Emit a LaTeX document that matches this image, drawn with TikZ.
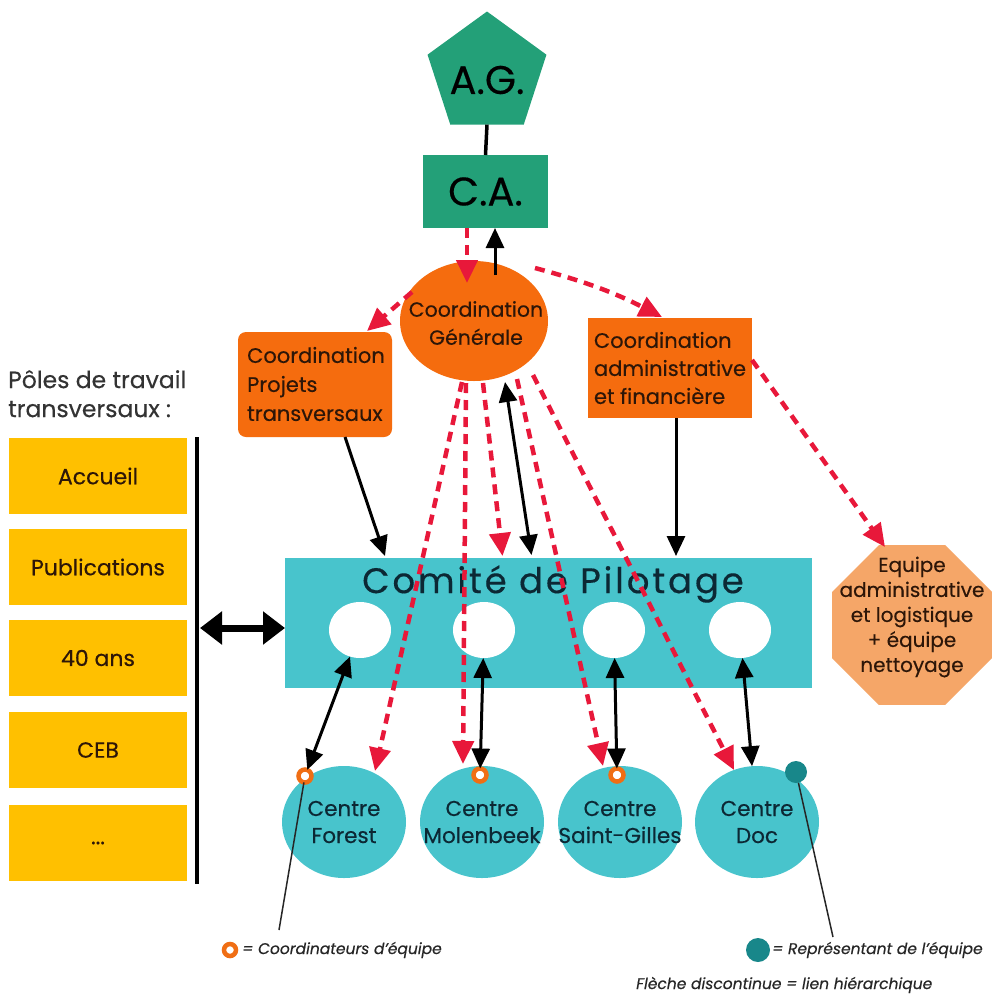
\documentclass[tikz,border=0pt]{standalone}
\usepackage{fontspec}
\setmainfont{Poppins}[FakeBold=0.35]
\usetikzlibrary{shapes.geometric,arrows.meta,calc}
\definecolor{agreen}{RGB}{35,160,120}
\definecolor{corange}{RGB}{245,108,14}
\definecolor{eqorange}{RGB}{245,166,104}
\definecolor{pyellow}{RGB}{255,192,0}
\definecolor{turq}{RGB}{72,196,204}
\definecolor{dred}{RGB}{232,24,58}
\definecolor{tealdot}{RGB}{24,135,138}
\definecolor{ringor}{RGB}{240,110,20}
\definecolor{dtext}{RGB}{45,22,8}
\definecolor{ctext}{RGB}{12,40,52}
\newcommand\fs[2]{\fontsize{#1}{#2}\selectfont}
\begin{document}
\begin{tikzpicture}[x=1pt,y=-1pt,
  shp/.style={inner sep=0pt, outer sep=0pt},
  txt/.style={inner sep=0pt, align=center},
  darr/.style={line width=3pt, black, -{Triangle[length=20pt,width=18pt]}},
  dbl/.style={line width=3pt, black, {Triangle[length=20pt,width=18pt]}-{Triangle[length=20pt,width=18pt]}},
  rarr/.style={line width=4.5pt, dred, dash pattern=on 10pt off 7pt, -{Triangle[length=23pt,width=21pt]}},
  pole/.style={shp, fill=pyellow, minimum width=178pt, minimum height=76pt, font=\fs{22}{26}, text=dtext},
  centre/.style={shp, ellipse, fill=turq, minimum width=124pt, minimum height=112pt},
  ctxt/.style={txt, font=\fs{21.5}{27}, text=ctext},
  hole/.style={shp, ellipse, fill=white, minimum width=62pt, minimum height=56pt},
  ring/.style={shp, circle, draw=ringor, line width=4.5pt, fill=white, minimum size=13pt},
  tdot/.style={shp, circle, fill=tealdot, minimum size=22pt},
  pointer/.style={line width=1.5pt, black!85},
  legend/.style={txt, anchor=west, font=\fs{15.5}{18}\itshape, text=black!85}
]
\useasboundingbox[fill=white] (0,0) rectangle (995,997);

% top
\node[shp, regular polygon, regular polygon sides=5, minimum size=125pt, fill=agreen] (ag) at (487,74) {};
\node[txt, font=\fs{40}{40}] (agt) at (487,80) {A.G.};
\node[shp, fill=agreen, minimum width=125pt, minimum height=73pt, font=\fs{40}{40}] (ca) at (485.5,191.5) {C.A.};
\draw[line width=3.5pt] (ag.south) -- (ca.north);

% coordination
\node[shp, ellipse, fill=corange, minimum width=148pt, minimum height=120pt] (cg) at (474,321) {};
\node[txt, font=\fs{20.5}{28}, text=dtext] (cgt) at (476,323) {Coordination\\Générale};
\node[shp, fill=corange, rounded corners=8pt, minimum width=154pt, minimum height=105pt] (cpt) at (315,384.5) {};
\node[txt, align=left, font=\fs{21}{29}, text=dtext] (cptt) at (316,384) {Coordination\\Projets\\transversaux};
\node[shp, fill=corange, minimum width=164pt, minimum height=100pt] (caf) at (670,368) {};
\node[txt, align=left, font=\fs{21}{28}, text=dtext] (caft) at (670,368) {Coordination\\administrative\\et financière};

% comite
\node[shp, fill=turq, minimum width=527pt, minimum height=130pt] (cp) at (548.5,623) {};
\node[txt, text=ctext] (cpt2) at (553,584) {\addfontfeature{LetterSpace=8}\fs{35.5}{36}Comité de Pilotage};
\node[hole] (w1) at (360,630) {};
\node[hole] (w2) at (484,630) {};
\node[hole] (w3) at (614,630) {};
\node[hole] (w4) at (740,630) {};

% centres
\node[centre] (cf) at (344,822) {};
\node[centre] (cm) at (482,822) {};
\node[centre] (cs) at (620,822) {};
\node[centre] (cd) at (757,822) {};
\node[ctxt] (cft) at (344,822) {Centre\\Forest};
\node[ctxt] (cmt) at (482,822) {Centre\\Molenbeek};
\node[ctxt] (cst) at (620,822) {Centre\\Saint-Gilles};
\node[ctxt] (cdt) at (757,822) {Centre\\Doc};

% equipe octagon
\node[shp, regular polygon, regular polygon sides=8, minimum size=173pt, fill=eqorange] (eq) at (912,625) {};
\node[txt, font=\fs{20}{25}, text=dtext] (eqt) at (912,617) {Equipe\\administrative\\et logistique\\+ équipe\\nettoyage};

% poles
\node[txt, align=left, anchor=north west, font=\fs{23.5}{29}, text=black!80] (pt) at (8,370) {Pôles de travail\\transversaux :};
\node[pole] (b1) at (98,476) {Accueil};
\node[pole] (b2) at (98,567) {Publications};
\node[pole] (b3) at (98,658) {40 ans};
\node[pole] (b4) at (98,750) {CEB};
\node[pole] (b5) at (98,843) {...};
\coordinate (vt) at (197,437);
\coordinate (vb) at (197,884);
\coordinate (vm) at (200,628);
\draw[line width=4pt] (vt) -- (vb);
\draw[line width=7pt, {Triangle[length=22pt,width=32pt]}-{Triangle[length=22pt,width=32pt]}] (vm) -- ($(cp.west)+(0,5)$);

% markers
\node[ring] (rf) at (305,776) {};
\node[ring] (rm) at (480,775) {};
\node[ring] (rs) at (617,775) {};
\node[tdot] (rd) at (796,772) {};
\coordinate (lc) at (279,930);
\coordinate (rc) at (833,937);
\draw[pointer] (rf) -- (lc);
\draw[pointer] (rd) -- (rc);

% black arrows
\draw[darr] ($(cg.north)+(21,14)$) -- ($(ca.south)+(9.5,0)$);
\draw[darr] ($(cpt.south)+(30,0)$) -- ($(cp.north)+(-163.5,-2)$);
\draw[dbl] ($(cg.south)+(31,1)$) -- ($(cp.north)+(-17,-3)$);
\draw[darr] ($(caf.south)+(6,0)$) -- ($(cp.north)+(127.5,-2)$);
\draw[dbl] (w1) -- (rf);
\draw[dbl] (w2) -- (rm);
\draw[dbl] (w3) -- (rs);
\draw[dbl] (w4) -- (cd);

% red dashed arrows
\draw[rarr] ($(ca.south)+(-18.5,0)$) -- ($(cg.center)+(-7,-38)$);
\draw[rarr] ($(cg.center)+(-62,-29)$) -- ($(cpt.north east)+(-25,-1)$);
\draw[rarr] ($(cg.center)+(61,-53)$) to[bend left=6] ($(caf.north)+(-8,-1)$);
\draw[rarr] ($(caf.east)+(0,-8)$) -- ($(eq.center)+(-27,-78)$);
\draw[rarr] ($(cg.center)+(-12,61)$) -- ($(cf.center)+(31,-51)$);
\draw[rarr] ($(cg.center)+(-8,62)$) -- ($(cm.center)+(-19,-58)$);
\draw[rarr] ($(cg.center)+(9,62)$) -- ($(cp.north)+(-46,-2)$);
\draw[rarr] ($(cg.center)+(43,58)$) -- ($(cs.center)+(-17,-56)$);
\draw[rarr] ($(cg.center)+(59,54)$) -- ($(cd.center)+(-23,-52)$);

% legend
\node[ring, minimum size=12pt] (lr) at (230,950) {};
\node[legend] (lrt) at (242,950) {= Coordinateurs d'équipe};
\node[tdot, minimum size=24pt] (ld) at (758,950) {};
\node[legend] (ldt) at (772,950) {= Représentant de l'équipe};
\node[legend] (fl) at (636,985) {Flèche discontinue = lien hiérarchique};
\end{tikzpicture}
\end{document}
